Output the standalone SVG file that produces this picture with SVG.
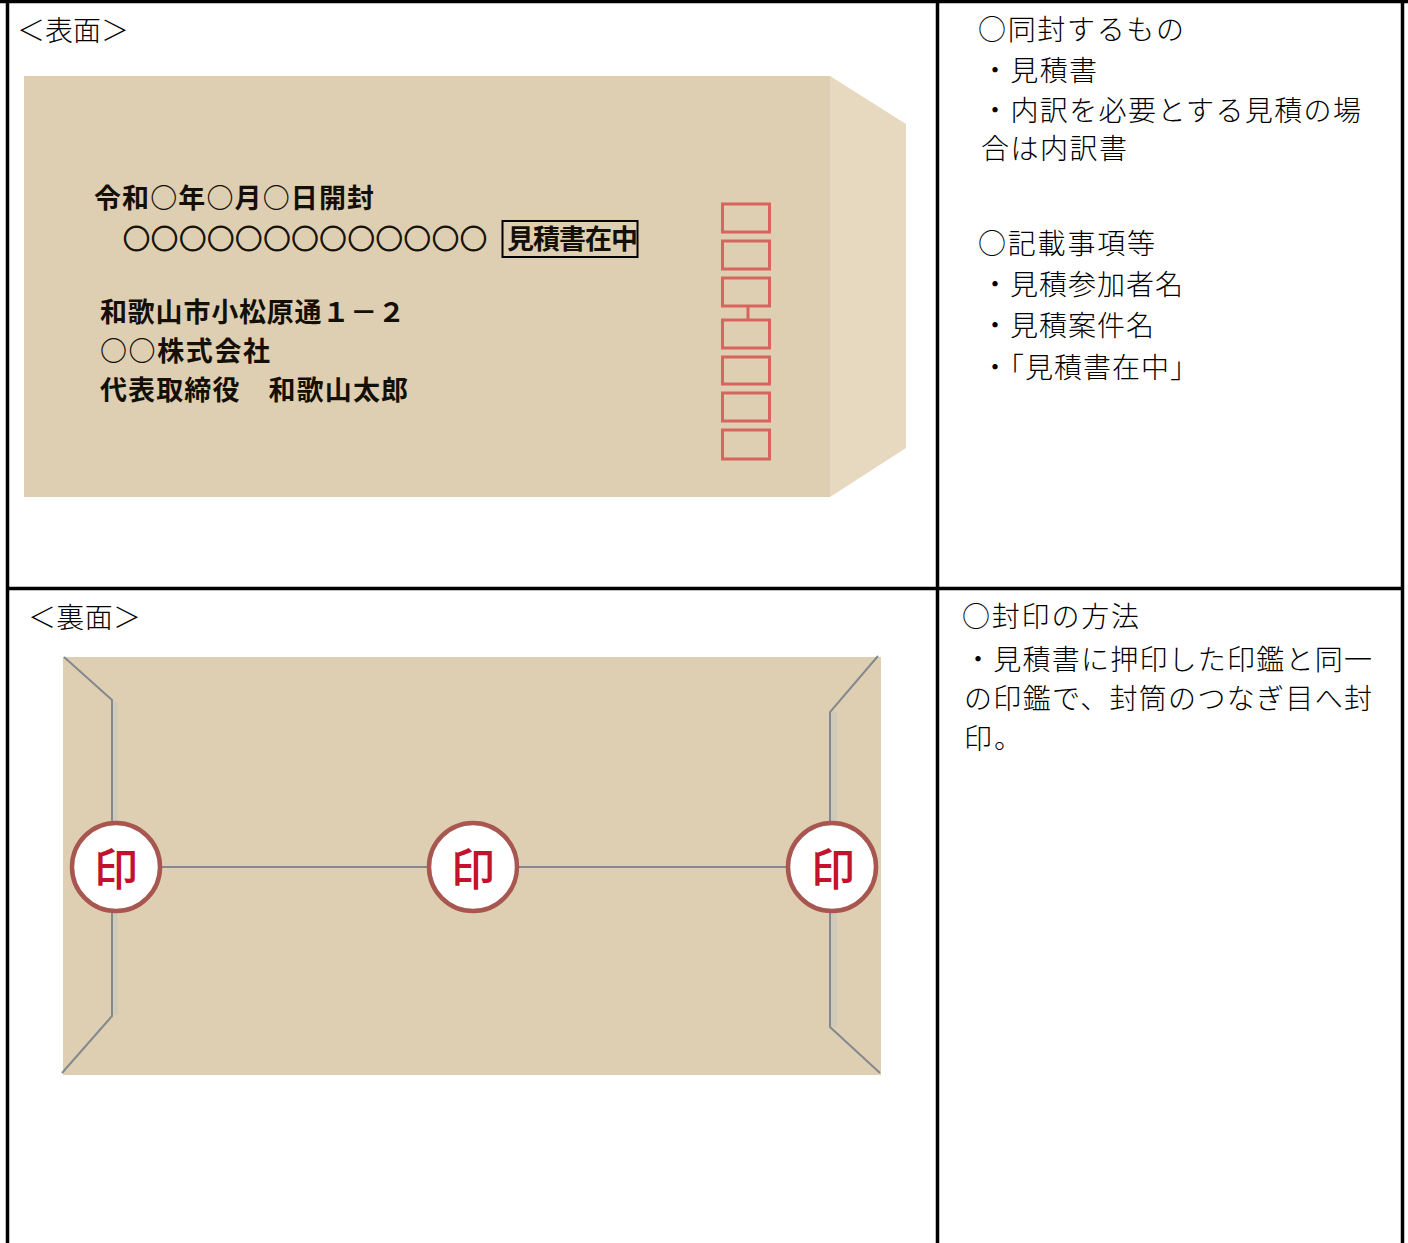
<svg xmlns="http://www.w3.org/2000/svg" width="1408" height="1243" viewBox="0 0 1408 1243">
<style>
text{font-family:"Noto Sans CJK JP","Noto Sans CJK SC",sans-serif;fill:#000}
.note{font-size:28px;font-weight:300}
.env{font-size:27px;font-weight:700;fill:#141008}
.rings{font-size:27px;font-weight:700;fill:#141008;stroke:#141008;stroke-width:1}
.frame{stroke:#000;stroke-width:3.500;fill:none}
.stampbox{fill:none;stroke:#d7655f;stroke-width:3}
.seam{fill:none;stroke:#84898f;stroke-width:2}
.shade{fill:none;stroke:#d0cbb9;stroke-width:6}
.seal circle{fill:#fff;stroke:#a85650;stroke-width:4.500}
.seal text{font-size:44px;font-weight:500;fill:#c4122e;text-anchor:middle}
</style>
<rect width="1408" height="1243" fill="#fff"/>
<g id="table-frame">
<path class="frame" d="M0 1.500H1408M7.500 0V1243M937.500 0V1243M1402.500 0V1243M7 588.500H1402"/>
</g>
<g id="front-envelope">
<polygon points="24,76 830,76 830,497 24,497" fill="#dfcfb2"/>
<polygon points="830,76 906,124 906,448 830,497" fill="#e6d9bf"/>
<g id="postal-code-boxes">
<rect class="stampbox" x="722.500" y="204" width="47" height="28"/>
<rect class="stampbox" x="722.500" y="241" width="47" height="28"/>
<rect class="stampbox" x="722.500" y="278" width="47" height="28"/>
<rect class="stampbox" x="722.500" y="320" width="47" height="28"/>
<rect class="stampbox" x="722.500" y="357" width="47" height="27"/>
<rect class="stampbox" x="722.500" y="393" width="47" height="28"/>
<rect class="stampbox" x="722.500" y="430" width="47" height="29"/>
<path class="stampbox" d="M748 306V320"/>
</g>
<g id="front-address">
<text class="env" x="94" y="208" textLength="280">令和○年○月○日開封</text>
<text class="rings" x="123" y="249" textLength="364">○○○○○○○○○○○○○</text>
<rect x="502.500" y="221" width="135" height="36" fill="none" stroke="#000" stroke-width="2"/>
<text class="env" x="507" y="249" font-size="26" textLength="131">見積書在中</text>
<text class="env" x="100" y="322" textLength="305">和歌山市小松原通１－２</text>
<text class="env" x="100" y="361" textLength="170">○○株式会社</text>
<text class="env" x="100" y="400" textLength="308">代表取締役　和歌山太郎</text>
</g>
</g>
<g id="back-envelope">
<rect x="63" y="657" width="818" height="418" fill="#dfcfb2"/>
</g>
<g id="connectors">
<path class="shade" d="M115 702V1015M834 712V1027"/>
<path class="seam" d="M64 657L112 700V1016L62 1073"/>
<path class="seam" d="M878 656L830 712V1027L880 1073"/>
<path class="seam" d="M116 867H832"/>
</g>
<g id="seal-left" class="seal"><circle cx="116" cy="867" r="44"/><text x="116" y="886">印</text></g>
<g id="seal-center" class="seal"><circle cx="473" cy="867" r="44"/><text x="473" y="886">印</text></g>
<g id="seal-right" class="seal"><circle cx="832" cy="867" r="44"/><text x="833" y="886">印</text></g>
<g id="front-heading"><text class="note" x="17" y="41" textLength="112">＜表面＞</text></g>
<g id="back-heading"><text class="note" x="28" y="628" textLength="113">＜裏面＞</text></g>
<g id="front-notes">
<text class="note" x="978" y="40" textLength="206">○同封するもの</text>
<text class="note" x="981" y="81" textLength="116">・見積書</text>
<text class="note" x="981" y="121" textLength="380">・内訳を必要とする見積の場</text>
<text class="note" x="981" y="159" textLength="146">合は内訳書</text>
<text class="note" x="978" y="254" textLength="177">○記載事項等</text>
<text class="note" x="981" y="295" textLength="202">・見積参加者名</text>
<text class="note" x="981" y="336" textLength="173">・見積案件名</text>
<text class="note" x="981" y="378" textLength="217">・「見積書在中」</text>
</g>
<g id="back-notes">
<text class="note" x="962" y="627" textLength="177">○封印の方法</text>
<text class="note" x="964" y="670" textLength="408">・見積書に押印した印鑑と同一</text>
<text class="note" x="964" y="709" textLength="408">の印鑑で、封筒のつなぎ目へ封</text>
<text class="note" x="964" y="749" textLength="58">印。</text>
</g>
</svg>
